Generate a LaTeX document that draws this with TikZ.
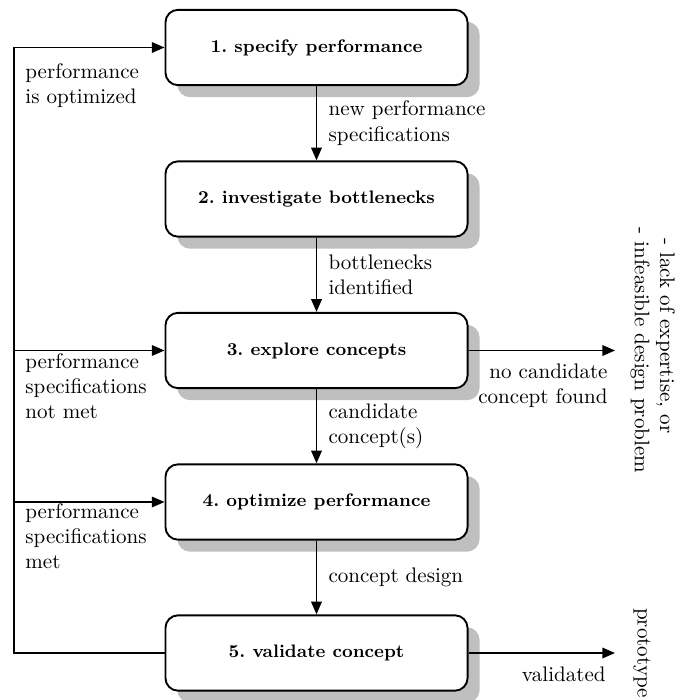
\documentclass[tikz,border=0pt]{standalone}
\usetikzlibrary{arrows.meta,shadows}
\begin{document}
\begin{tikzpicture}[x=0.475pt,y=-0.475pt,
  stage/.style={draw, line width=0.9pt, rounded corners=6pt, fill=white,
    minimum width=143.5pt, minimum height=35.8pt,
    font=\fontsize{8.6pt}{10.5pt}\selectfont\bfseries\frenchspacing, inner sep=0pt,
    drop shadow={shadow xshift=5.7pt, shadow yshift=-5.7pt, fill=black!25, opacity=1}},
  flow/.style={line width=0.8pt, -{Triangle[length=6pt,width=5pt]}},
  lbl/.style={inner sep=0pt, align=left},
  vlbl/.style={right, align=left, xshift=2pt, inner sep=3.33pt},
]
\useasboundingbox (0,0) rectangle (675,700);

\node[stage] (s1) at (316.5,47.5) {1. specify performance};
\node[stage] (s2) at (316.5,199) {2. investigate bottlenecks};
\node[stage] (s3) at (316.5,350.5) {3. explore concepts};
\node[stage] (s4) at (316.5,502) {4. optimize performance};
\node[stage] (s5) at (316.5,653) {5. validate concept};

\draw[flow] (s1) -- node[vlbl] (v1) {new performance\\specifications} (s2);
\draw[flow] (s2) -- node[vlbl] (v2) {bottlenecks\\identified} (s3);
\draw[flow] (s3) -- node[vlbl] (v3) {candidate\\concept(s)} (s4);
\draw[flow] (s4) -- node[vlbl] (v4) {concept design} (s5);

\coordinate (L1) at (14,47.5);
\coordinate (L3) at (14,350.5);
\coordinate (L4) at (14,502);
\coordinate (L5) at (14,653);
\draw[flow] (s5.west) -- (L5) -- (L1) -- (s1.west);
\draw[flow] (L3) -- (s3.west);
\draw[flow] (L4) -- (s4.west);

\coordinate (R3) at (615,350.5);
\coordinate (R5) at (615,653);
\draw[flow] (s3.east) -- (R3);
\draw[flow] (s5.east) -- (R5);

\node[lbl, anchor=north west] (t1) at (25,63) {performance\\is optimized};
\node[lbl, anchor=north west] (t3) at (25,353) {performance\\specifications\\not met};
\node[lbl, anchor=north west] (t4) at (25,503) {performance\\specifications\\met};
\node[lbl, anchor=north east, align=right] (t5) at (608,363) {no candidate\\concept found};
\node[lbl, anchor=north east] (t6) at (606,666) {validated};
\node[lbl, rotate=-90, anchor=south] (t7) at (630,350.5) {\hspace*{5pt}- lack of expertise, or\\- infeasible design problem};
\node[lbl, rotate=-90, anchor=south] (t8) at (633,653) {prototype};
\end{tikzpicture}
\end{document}
